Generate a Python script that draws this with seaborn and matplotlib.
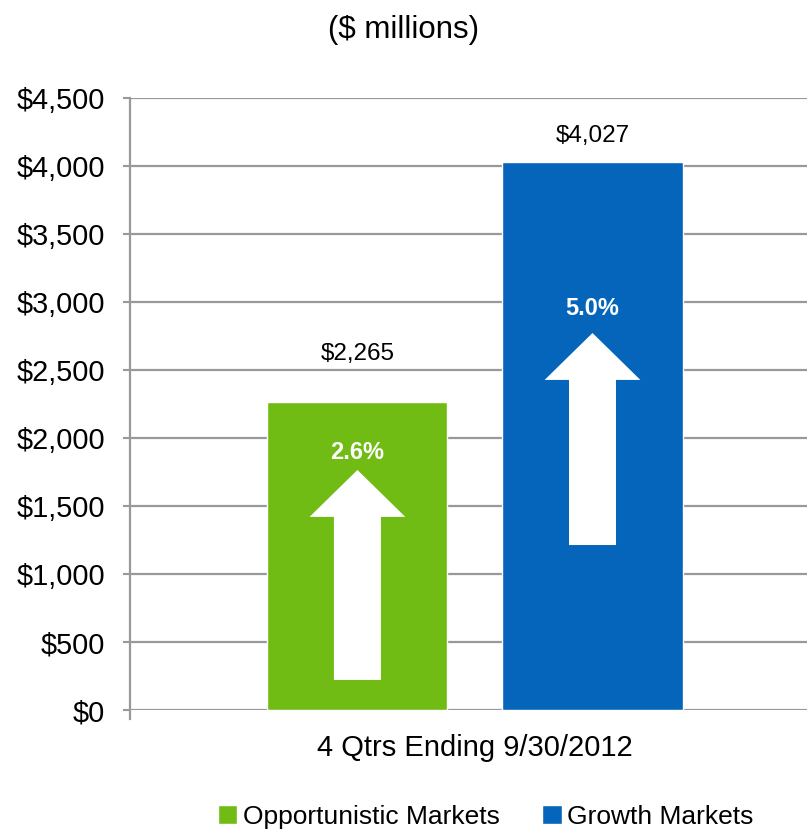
import matplotlib
matplotlib.use("Agg")
import matplotlib.pyplot as plt
from matplotlib.patches import Polygon
import seaborn as sns
import pandas as pd

# Revenue by market type, trailing four quarters
period = ["4 Qtrs Ending 9/30/2012"]
markets = ["Opportunistic Markets", "Growth Markets"]
revenue = [2265, 4027]
growth = ["2.6%", "5.0%"]
value_labels = ["$2,265", "$4,027"]
y_ticks = [0, 500, 1000, 1500, 2000, 2500, 3000, 3500, 4000, 4500]
y_tick_labels = ["$0", "$500", "$1,000", "$1,500", "$2,000", "$2,500",
                 "$3,000", "$3,500", "$4,000", "$4,500"]
palette = ["#70BC14", "#0565BA"]

df = pd.DataFrame({"period": period * len(markets), "market": markets, "revenue": revenue})

sns.set_style("white")
plt.rcParams["font.family"] = ["Liberation Sans", "DejaVu Sans"]
plt.rcParams["text.color"] = "black"
plt.rcParams["xtick.labelcolor"] = "black"
plt.rcParams["ytick.labelcolor"] = "black"

fig = plt.figure(figsize=(8.07, 8.30), dpi=100)
ax = fig.add_axes([130 / 807, 1 - 710 / 830, 677 / 807, 612 / 830])

sns.barplot(data=df, x="period", y="revenue", hue="market", palette=palette,
            gap=0.234, width=0.8, saturation=1, ax=ax, legend=True, zorder=2)

ax.set_xlim(-0.587, 0.565)
ax.set_ylim(0, 4500)
ax.set_yticks(y_ticks)
ax.set_yticklabels(y_tick_labels, fontsize=20.8, color="black")
ax.set_xlabel("")
ax.set_ylabel("")
ax.tick_params(axis="x", labelsize=21, length=0, pad=17, labelcolor="black")
ax.tick_params(axis="y", length=5, width=1.5, color="#999999", pad=13, left=True,
               labelcolor="black")
ax.yaxis.grid(True, color="#999999", linewidth=1.6, zorder=0)
ax.set_axisbelow(True)
for side in ["top", "right", "bottom"]:
    ax.spines[side].set_visible(False)
ax.spines["left"].set_color("#999999")
ax.spines["left"].set_linewidth(1.6)
ax.spines["left"].set_bounds(-65, 4500)
ax.spines["left"].set_zorder(3)

# value labels, growth arrows and growth rates
label_y = [2620, 4221]
arrow_bottom = [221, 1213]
arrow_tip = [1765, 2772]
pct_y = [1897, 2949]
shaft_half = 0.04
head_half = 0.0815
head_len = 345
for bar, val, lab_y, y0, y1, pct, py in zip(ax.patches[:2], value_labels, label_y,
                                             arrow_bottom, arrow_tip, growth, pct_y):
    cx = bar.get_x() + bar.get_width() / 2
    ax.text(cx, lab_y, val, ha="center", va="center", fontsize=17.5, color="black")
    hb = y1 - head_len
    pts = [(cx - shaft_half, y0), (cx + shaft_half, y0), (cx + shaft_half, hb),
           (cx + head_half, hb), (cx, y1), (cx - head_half, hb), (cx - shaft_half, hb)]
    ax.add_patch(Polygon(pts, closed=True, facecolor="white", edgecolor="none", zorder=4))
    ax.text(cx, py, pct, ha="center", va="center", fontsize=17, fontweight="bold",
            color="white", zorder=5)

fig.text(0.5, 1 - 30 / 830, "($ millions)", ha="center", va="center", fontsize=22.5,
         color="black")

handles, labels = ax.get_legend_handles_labels()
ax.get_legend().remove()
leg = fig.legend(handles, labels, loc="center", bbox_to_anchor=(485.5 / 807, 1 - 817 / 830),
                 ncol=2, frameon=False, fontsize=19, handlelength=0.75, handleheight=0.75,
                 handletextpad=0.2, columnspacing=1.6, borderaxespad=0)
for t in leg.get_texts():
    t.set_color("black")

fig.savefig("out.png", dpi=100)
